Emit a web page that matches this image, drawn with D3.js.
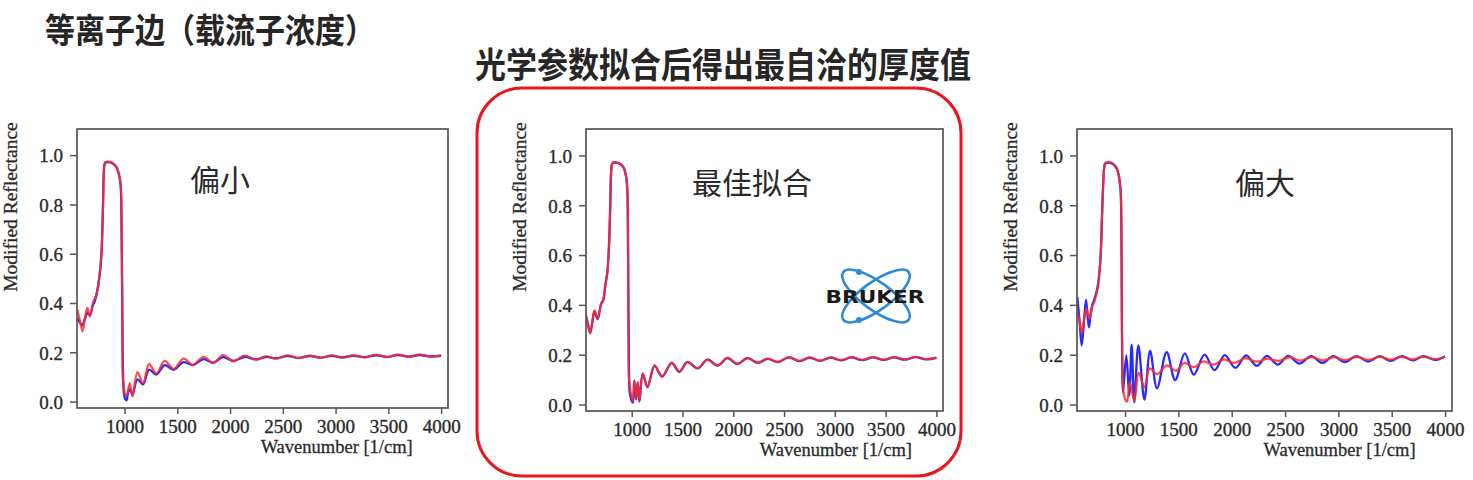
<!DOCTYPE html>
<html><head><meta charset="utf-8">
<script src="https://cdn.jsdelivr.net/npm/d3@7"></script>
<style>
html,body{margin:0;padding:0;background:#fff;}
svg{display:block;}
</style></head>
<body>
<svg id="chart" width="1473" height="480"></svg>
<script>
// ---------------- data ----------------
const mainTitle = "等离子边（载流子浓度）";
const subTitle = "光学参数拟合后得出最自洽的厚度值";
const panelLabels = ["偏小", "最佳拟合", "偏大"];
const xTicks = [1000, 1500, 2000, 2500, 3000, 3500, 4000];
const yTicks = [0.0, 0.2, 0.4, 0.6, 0.8, 1.0];
const xTitle = "Wavenumber [1/cm]";
const yTitle = "Modified Reflectance";
const logoText = "BRUKER";

// panel 1 (偏小): measured (blue) and fitted (red)
const smallMeasured = [[553,0.34],[575,0.322],[600,0.31],[625,0.335],[648,0.36],[672,0.35],[700,0.39],[720,0.41],[742,0.45],[760,0.50],[775,0.56],[785,0.63],[792,0.72],[798,0.83],[803,0.92],[810,0.96],[820,0.97],[850,0.972],[880,0.968],[905,0.96],[925,0.95],[942,0.93],[955,0.905],[965,0.87],[971,0.75],[977,0.5],[982,0.25],[988,0.08],[996,0.03],[1008,0.01],[1020,0.005],[1035,0.04],[1050,0.05],[1075,0.03],[1123,0.09],[1176,0.07],[1233,0.13],[1302,0.11],[1381,0.148],[1466,0.13],[1560,0.16],[1648,0.148],[1749,0.172],[1843,0.158],[1932,0.18],[2032,0.165],[2136,0.181],[2246,0.171],[2341,0.181],[2435,0.175],[2546,0.185],[2650,0.177],[2756,0.185],[2860,0.178],[2961,0.186],[3065,0.179],[3166,0.186],[3275,0.18],[3386,0.188],[3490,0.181],[3590,0.189],[3695,0.182],[3795,0.189],[3900,0.183],[4000,0.186]];
const smallFit = [[553,0.373],[577,0.33],[603,0.285],[625,0.34],[648,0.38],[672,0.345],[704,0.406],[722,0.42],[742,0.45],[760,0.50],[775,0.56],[785,0.63],[792,0.72],[798,0.83],[803,0.92],[810,0.962],[820,0.972],[850,0.974],[880,0.97],[905,0.962],[925,0.952],[942,0.932],[955,0.907],[965,0.872],[971,0.76],[976,0.5],[980,0.25],[984,0.1],[993,0.06],[1005,0.03],[1020,0.025],[1050,0.075],[1075,0.02],[1123,0.12],[1176,0.075],[1233,0.152],[1302,0.115],[1381,0.165],[1466,0.133],[1560,0.174],[1648,0.149],[1749,0.182],[1843,0.156],[1932,0.189],[2032,0.163],[2136,0.187],[2246,0.17],[2341,0.184],[2435,0.174],[2546,0.188],[2650,0.176],[2756,0.187],[2860,0.178],[2961,0.187],[3065,0.179],[3166,0.188],[3275,0.18],[3386,0.19],[3490,0.181],[3590,0.191],[3695,0.182],[3795,0.191],[3900,0.183],[4000,0.188]];

// panel 2 (最佳拟合)
const bestMeasured = [[542,0.368],[565,0.33],[591,0.288],[612,0.33],[634,0.375],[664,0.342],[698,0.402],[720,0.42],[741,0.48],[760,0.53],[772,0.6],[782,0.7],[790,0.82],[797,0.93],[805,0.963],[815,0.97],[850,0.971],[880,0.967],[905,0.959],[925,0.947],[940,0.924],[950,0.9],[958,0.85],[963,0.7],[968,0.4],[973,0.15],[980,0.05],[990,0.03],[1003,0.012],[1012,0.008],[1026,0.094],[1043,0.02],[1059,0.088],[1076,0.012],[1109,0.123],[1155,0.07],[1225,0.155],[1300,0.112],[1393,0.166],[1470,0.131],[1548,0.17],[1650,0.145],[1746,0.18],[1845,0.156],[1943,0.186],[2040,0.163],[2141,0.186],[2240,0.167],[2339,0.183],[2440,0.17],[2547,0.189],[2650,0.174],[2751,0.188],[2855,0.175],[2958,0.188],[3060,0.177],[3163,0.189],[3270,0.178],[3375,0.189],[3480,0.179],[3585,0.189],[3690,0.18],[3795,0.19],[3900,0.181],[4000,0.187]];
const bestFit = [[542,0.372],[565,0.33],[591,0.285],[612,0.33],[634,0.378],[664,0.345],[698,0.405],[720,0.42],[741,0.48],[760,0.53],[772,0.6],[782,0.7],[790,0.82],[797,0.93],[805,0.965],[815,0.972],[850,0.972],[880,0.968],[905,0.96],[925,0.948],[940,0.925],[950,0.9],[958,0.85],[963,0.7],[966,0.4],[969,0.2],[972,0.11],[985,0.06],[1000,0.03],[1012,0.015],[1026,0.097],[1043,0.023],[1059,0.09],[1076,0.016],[1109,0.125],[1155,0.072],[1225,0.157],[1300,0.114],[1393,0.168],[1470,0.133],[1548,0.171],[1650,0.146],[1746,0.181],[1845,0.157],[1943,0.187],[2040,0.164],[2141,0.187],[2240,0.168],[2339,0.184],[2440,0.171],[2547,0.19],[2650,0.175],[2751,0.189],[2855,0.176],[2958,0.189],[3060,0.178],[3163,0.19],[3270,0.179],[3375,0.19],[3480,0.18],[3585,0.19],[3690,0.181],[3795,0.191],[3900,0.182],[4000,0.188]];

// panel 3 (偏大)
const largeMeasured = [[553,0.431],[575,0.33],[594,0.237],[615,0.33],[634,0.42],[648,0.36],[662,0.31],[678,0.36],[694,0.40],[710,0.42],[725,0.44],[742,0.47],[760,0.53],[772,0.6],[784,0.75],[795,0.88],[805,0.95],[815,0.967],[850,0.971],[880,0.967],[905,0.958],[925,0.945],[940,0.922],[950,0.895],[960,0.85],[966,0.7],[970,0.4],[974,0.15],[981,0.05],[1012,0.197],[1040,0.036],[1062,0.24],[1087,0.009],[1125,0.237],[1182,0.02],[1235,0.215],[1300,0.065],[1390,0.21],[1470,0.098],[1560,0.205],[1645,0.12],[1745,0.2],[1840,0.138],[1935,0.198],[2035,0.147],[2135,0.197],[2235,0.155],[2330,0.195],[2432,0.16],[2530,0.195],[2635,0.164],[2745,0.194],[2850,0.167],[2953,0.194],[3060,0.17],[3170,0.194],[3280,0.173],[3388,0.194],[3490,0.175],[3594,0.194],[3700,0.177],[3797,0.194],[3905,0.179],[4000,0.193]];
const largeFit = [[553,0.37],[575,0.33],[596,0.286],[618,0.35],[640,0.384],[668,0.344],[690,0.39],[710,0.41],[730,0.44],[745,0.47],[760,0.53],[772,0.6],[784,0.75],[795,0.88],[805,0.952],[815,0.969],[850,0.973],[880,0.969],[905,0.96],[925,0.947],[940,0.924],[950,0.897],[960,0.852],[966,0.7],[970,0.4],[974,0.2],[980,0.09],[995,0.03],[1019,0.012],[1045,0.09],[1087,0.015],[1128,0.127],[1182,0.07],[1232,0.145],[1300,0.122],[1394,0.157],[1480,0.135],[1556,0.167],[1644,0.15],[1737,0.173],[1831,0.16],[1925,0.181],[2024,0.167],[2128,0.186],[2237,0.172],[2337,0.184],[2440,0.175],[2549,0.19],[2643,0.176],[2750,0.19],[2855,0.177],[2955,0.19],[3060,0.178],[3170,0.191],[3280,0.179],[3388,0.191],[3490,0.18],[3594,0.191],[3700,0.181],[3797,0.192],[3905,0.182],[4000,0.193]];

// ---------------- layout ----------------
const xDomain = [550, 4065];
const yDomain = [-0.026, 1.106];
const panels = [
  {x0:77,  x1:448,  y0:129, y1:408, label:panelLabels[0], lx:220, ly:191, measured:smallMeasured, fit:smallFit},
  {x0:586, x1:943,  y0:129, y1:411, label:panelLabels[1], lx:752, ly:194, measured:bestMeasured,  fit:bestFit},
  {x0:1077,x1:1452, y0:129, y1:411, label:panelLabels[2], lx:1265,ly:194, measured:largeMeasured, fit:largeFit}
];

const svg = d3.select("#chart");
const serif = "'Liberation Serif','Times New Roman',serif";
const cjk = "'Noto Sans CJK SC','Noto Sans CJK JP',sans-serif";
const textCol = "#2b2b2b";

// titles (slightly tall glyphs, as in the reference)
svg.append("text").attr("transform", "translate(45,43) scale(1,1.12)")
  .attr("font-family", cjk).attr("font-weight", 700).attr("font-size", 30)
  .attr("fill", "#262626").text(mainTitle);
svg.append("text").attr("transform", "translate(475,78) scale(1,1.12)")
  .attr("font-family", cjk).attr("font-weight", 700).attr("font-size", 31)
  .attr("fill", "#262626").text(subTitle);

// red rounded frame around middle panel
svg.append("rect").attr("x", 477).attr("y", 88).attr("width", 484).attr("height", 388)
  .attr("rx", 45).attr("ry", 45).attr("fill", "none")
  .attr("stroke", "#e8161e").attr("stroke-width", 3);

panels.forEach((p, i) => {
  const x = d3.scaleLinear().domain(xDomain).range([p.x0, p.x1]);
  const y = d3.scaleLinear().domain(yDomain).range([p.y1, p.y0]);
  const g = svg.append("g");

  const clipId = "clip" + i;
  svg.append("clipPath").attr("id", clipId).append("rect")
    .attr("x", p.x0).attr("y", p.y0).attr("width", p.x1 - p.x0).attr("height", p.y1 - p.y0);

  const line = d3.line().x(d => x(d[0])).y(d => y(d[1])).curve(d3.curveCatmullRom.alpha(0.5));
  const lg = g.append("g").attr("clip-path", `url(#${clipId})`);
  lg.append("path").datum(p.measured).attr("d", line).attr("fill", "none")
    .attr("stroke", "#2a2aff").attr("stroke-width", 2.3).attr("stroke-linejoin", "round");
  lg.append("path").datum(p.fit).attr("d", line).attr("fill", "none")
    .attr("stroke", "#ff2a2a").attr("stroke-opacity", 0.86).attr("stroke-width", 2.2).attr("stroke-linejoin", "round");

  // frame
  g.append("rect").attr("x", p.x0).attr("y", p.y0).attr("width", p.x1 - p.x0).attr("height", p.y1 - p.y0)
    .attr("fill", "none").attr("stroke", "#555").attr("stroke-width", 1.7);

  // axes
  const xa = g.append("g").attr("transform", `translate(0,${p.y1})`)
    .call(d3.axisBottom(x).tickValues(xTicks).tickSize(6).tickSizeOuter(0).tickPadding(6).tickFormat(d3.format("d")));
  const ya = g.append("g").attr("transform", `translate(${p.x0},0)`)
    .call(d3.axisLeft(y).tickValues(yTicks).tickSize(7).tickSizeOuter(0).tickPadding(7).tickFormat(d3.format(".1f")));
  [xa, ya].forEach(a => {
    a.select(".domain").remove();
    a.selectAll(".tick line").attr("stroke", "#555").attr("stroke-width", 1.5);
    a.selectAll(".tick text").attr("font-family", serif).attr("font-size", 19).attr("fill", textCol)
      .attr("stroke", textCol).attr("stroke-width", 0.35);
  });
  xa.selectAll(".tick text").attr("dy", null).attr("y", 25);
  ya.selectAll(".tick text").attr("dy", "0.36em");

  // axis titles
  g.append("text").attr("x", p.x0 + 0.70 * (p.x1 - p.x0)).attr("y", p.y1 + 45)
    .attr("text-anchor", "middle").attr("font-family", serif).attr("font-size", 18.5)
    .attr("fill", textCol).attr("stroke", textCol).attr("stroke-width", 0.3).text(xTitle);
  g.append("text").attr("transform", `translate(${p.x0 - 60},207) rotate(-90)`)
    .attr("text-anchor", "middle").attr("font-family", serif).attr("font-size", 19.5)
    .attr("fill", textCol).attr("stroke", textCol).attr("stroke-width", 0.3).text(yTitle);

  // panel label
  g.append("text").attr("x", p.lx).attr("y", p.ly).attr("text-anchor", "middle")
    .attr("font-family", cjk).attr("font-size", 30).attr("fill", "#2a2a2a").text(p.label);
});

// Bruker logo
const logo = svg.append("g").attr("transform", "translate(876,296)");
[-36, 36].forEach(a => {
  logo.append("ellipse").attr("rx", 40.5).attr("ry", 14).attr("transform", `rotate(${a})`)
    .attr("fill", "none").attr("stroke", "#2f8ad6").attr("stroke-width", 2.6);
});
logo.append("circle").attr("cx", -17).attr("cy", -24).attr("r", 3).attr("fill", "#2f8ad6");
logo.append("circle").attr("cx", -17).attr("cy", 24).attr("r", 3).attr("fill", "#2f8ad6");
logo.append("text").attr("x", -1).attr("y", 6.5).attr("text-anchor", "middle")
  .attr("font-family", "'DejaVu Sans',sans-serif").attr("font-weight", 700).attr("font-size", 17)
  .attr("textLength", 99).attr("lengthAdjust", "spacingAndGlyphs")
  .attr("fill", "#1a1a1a").text(logoText);
</script>
</body></html>
